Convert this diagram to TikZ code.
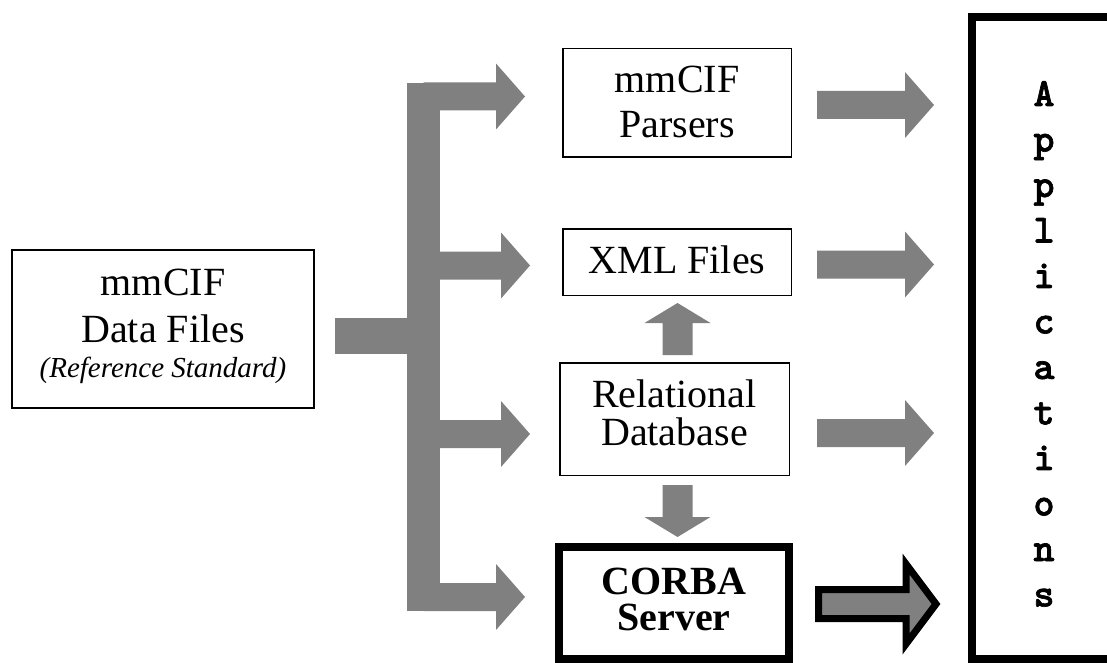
\documentclass[tikz,border=0pt]{standalone}
\usepackage{fontspec}
\setmainfont{Liberation Serif}
\newfontfamily\appfont{lmmonolt10-bold}[Extension=.otf, AutoFakeBold=1.6]
\usetikzlibrary{calc}
\definecolor{fatgray}{RGB}{128,128,128}
\tikzset{
  box/.style={draw=black, line width=1.5pt, fill=white, inner sep=0pt, align=center,
    font=\fontsize{40}{45}\selectfont},
  heavybox/.style={draw=black, line width=8pt, fill=white, inner sep=0pt, align=center},
  hfat/.style={to path={let \p1=(\tikztostart), \p2=(\tikztotarget) in
     (\x1,\y1+14pt) -- (\x2-29pt,\y1+14pt) -- (\x2-29pt,\y1+33pt) -- (\x2,\y1)
     -- (\x2-29pt,\y1-33pt) -- (\x2-29pt,\y1-14pt) -- (\x1,\y1-14pt) -- cycle}},
  hfatthick/.style={to path={let \p1=(\tikztostart), \p2=(\tikztotarget) in
     (\x1,\y1+14.5pt) -- (\x2-30pt,\y1+14.5pt) -- (\x2-30pt,\y1+40pt) -- (\x2,\y1)
     -- (\x2-30pt,\y1-40pt) -- (\x2-30pt,\y1-14.5pt) -- (\x1,\y1-14.5pt) -- cycle}},
  upfat/.style={to path={let \p1=(\tikztostart), \p2=(\tikztotarget) in
     (\x1-15pt,\y1) -- (\x1-15pt,\y2-20pt) -- (\x1-33pt,\y2-20pt) -- (\x1,\y2)
     -- (\x1+33pt,\y2-20pt) -- (\x1+15pt,\y2-20pt) -- (\x1+15pt,\y1) -- cycle}},
  downfat/.style={to path={let \p1=(\tikztostart), \p2=(\tikztotarget) in
     (\x1-15pt,\y1) -- (\x1-15pt,\y2+20pt) -- (\x1-33pt,\y2+20pt) -- (\x1,\y2)
     -- (\x1+33pt,\y2+20pt) -- (\x1+15pt,\y2+20pt) -- (\x1+15pt,\y1) -- cycle}},
}
\begin{document}
\begin{tikzpicture}[x=1pt,y=-1pt]
\useasboundingbox (0,0) rectangle (1107,663);
\clip (0,0) rectangle (1107,663);
\fill[white] (0,0) rectangle (1107,663);

% boxes
\node[box, minimum width=302pt, minimum height=158pt, text height=120pt, text depth=24pt,
  font=\fontsize{40}{47}\selectfont] (src) at (163,329)
  {mmCIF\\Data Files\\[-12pt]{\itshape\fontsize{29}{35}\selectfont (Reference Standard)}};
\node[box, minimum width=228.5pt, minimum height=108.5pt, text height=80pt, text depth=10.6pt]
  (parsers) at (677,103) {mmCIF\\Parsers};
\node[box, minimum width=228.5pt, minimum height=66.5pt, text height=28pt, text depth=6pt]
  (xml) at (677,262) {XML Files};
\node[box, minimum width=229.5pt, minimum height=112.5pt, text height=70pt, text depth=18pt,
  font=\fontsize{40}{38}\selectfont] (rel) at (674.5,419) {Relational\\Database};
\node[heavybox, minimum width=230pt, minimum height=112pt, text height=70pt, text depth=16pt,
  font=\bfseries\fontsize{40}{36}\selectfont] (corba) at (674,603) {CORBA\\Server};
\node[heavybox, minimum width=160pt, minimum height=642pt] (apps) at (1052,338) {};
\node[anchor=base, inner sep=0pt, font=\appfont\bfseries\fontsize{40}{45.5}\selectfont] (appstext) at (1044,106)
  {\vtop{\baselineskip=45.5pt\lineskiplimit=-100pt
   \hbox{A}\hbox{p}\hbox{p}\hbox{l}\hbox{i}\hbox{c}\hbox{a}\hbox{t}\hbox{i}\hbox{o}\hbox{n}\hbox{s}}};

% distribution bus
\coordinate (trunktop) at (423.5,83);
\coordinate (trunkbot) at (423.5,611);
\fill[fatgray] ($(trunktop)+(-16.5,0)$) rectangle ($(trunkbot)+(16.5,0)$);
\fill[fatgray] ($(src.east)+(20,-11)$) rectangle ($(trunktop)+(0,271)$);
\fill[fatgray] ($(trunktop)+(0,13.5)$) to[hfat] ($(parsers.west)+(-37,0)$);
\fill[fatgray] ($(trunktop)+(0,182.5)$) to[hfat] ($(xml.west)+(-32,0)$);
\fill[fatgray] ($(trunktop)+(0,351)$) to[hfat] ($(rel.west)+(-29,0)$);
\fill[fatgray] ($(trunkbot)+(0,-14)$) to[hfat] ($(corba.west)+(-30,0)$);

% vertical arrows
\fill[fatgray] ($(rel.north)+(3,-7)$) to[upfat] ($(xml.south)+(0,7)$);
\fill[fatgray] ($(rel.south)+(3,9)$) to[downfat] ($(corba.north)+(0,-6)$);

% arrows to applications
\fill[fatgray] ($(parsers.east)+(25,2)$) to[hfat] ($(apps.west)+(-34,0)$);
\fill[fatgray] ($(xml.east)+(25,2.5)$) to[hfat] ($(apps.west)+(-34,0)$);
\fill[fatgray] ($(rel.east)+(27,14)$) to[hfat] ($(apps.west)+(-34,0)$);
\filldraw[fill=fatgray, draw=black, line width=7pt, line join=miter, miter limit=10]
  ($(corba.east)+(25.5,1)$) to[hfatthick] ($(apps.west)+(-32,0)$);
\end{tikzpicture}
\end{document}
